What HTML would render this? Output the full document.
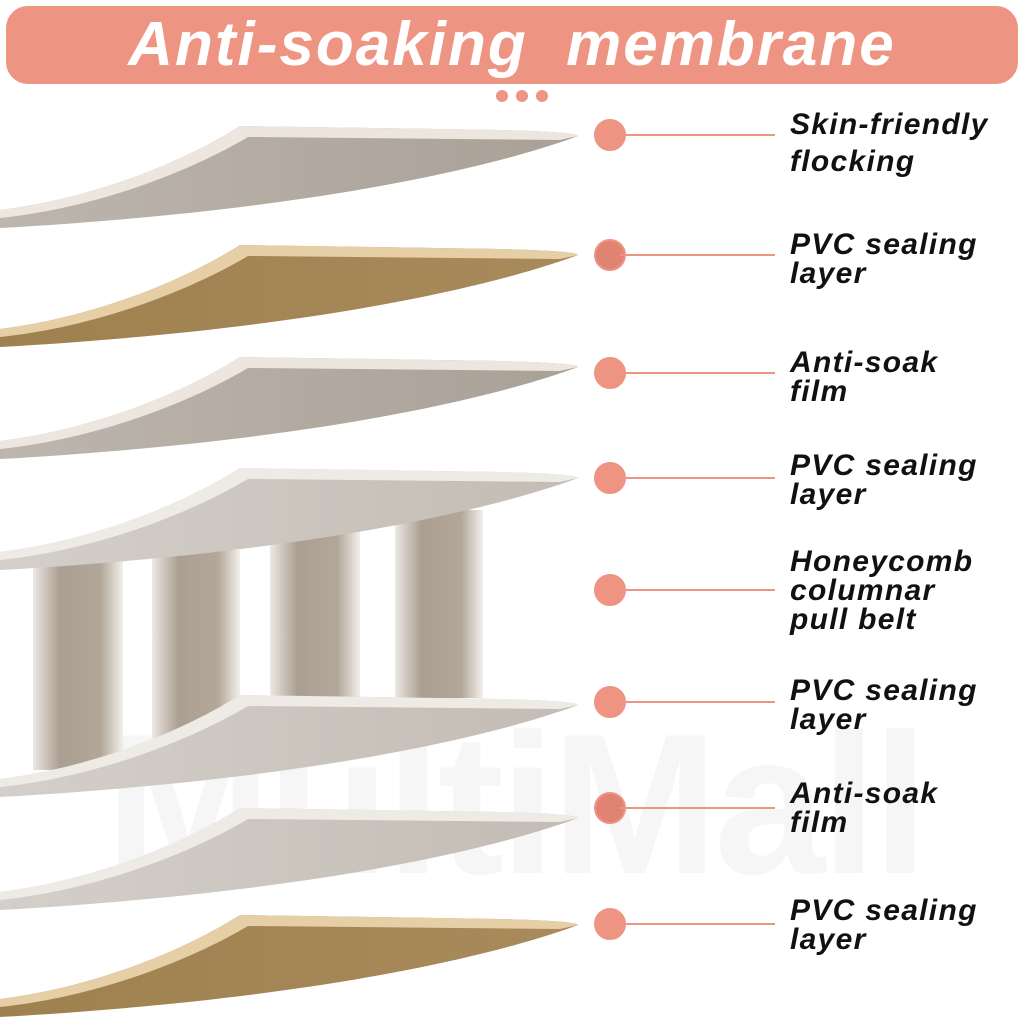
<!DOCTYPE html>
<html><head><meta charset="utf-8"><style>
html,body{margin:0;padding:0;background:#fff;}
body{width:1024px;height:1024px;position:relative;overflow:hidden;font-family:"Liberation Sans",sans-serif;}
.hdr{position:absolute;left:6px;top:6px;width:1012px;height:78px;background:#ee9482;border-radius:22px;color:#fff;font-style:italic;font-weight:bold;font-size:62px;text-align:center;line-height:78px;letter-spacing:2px;white-space:pre;}
.lbl{position:absolute;left:790px;font-weight:bold;font-style:italic;font-size:30px;line-height:29px;color:#111;letter-spacing:1.3px;}
.wm{position:absolute;left:105px;top:690px;font-size:200px;font-weight:bold;color:#f6f6f6;letter-spacing:-4px;}
</style></head><body>
<div class="wm">MultiMall</div>
<div class="hdr">Anti-soaking  membrane</div>
<svg width="1024" height="1024" style="position:absolute;left:0;top:0">
<defs>
<linearGradient id="g" x1="0" y1="0" x2="1" y2="0"><stop offset="0" stop-color="#bdb6ae"/><stop offset="1" stop-color="#a9a096"/></linearGradient>
<linearGradient id="g2" x1="0" y1="0" x2="1" y2="0"><stop offset="0" stop-color="#d4cfca"/><stop offset="1" stop-color="#c3bcb4"/></linearGradient>
<linearGradient id="t" x1="0" y1="0" x2="1" y2="0"><stop offset="0" stop-color="#9f814f"/><stop offset="1" stop-color="#a98a5c"/></linearGradient>
<linearGradient id="c" x1="0" y1="0" x2="1" y2="0"><stop offset="0" stop-color="#ece8e4"/><stop offset="0.3" stop-color="#ab9f91"/><stop offset="0.75" stop-color="#b2a799"/><stop offset="1" stop-color="#f2efeb"/></linearGradient>
<path id="surf" d="M0,210 C80,200 170,170 240,126 L500,130 Q578,132 578,136 C500,165 320,210 0,228 Z"/>
<path id="rim" d="M0,210 C80,200 170,170 240,126 L500,130 Q578,132 578,136 L560,140 L248,137 C175,180 80,210 0,218 Z"/>
</defs>
<circle cx="502" cy="96" r="6" fill="#ee9482"/><circle cx="522" cy="96" r="6" fill="#ee9482"/><circle cx="542" cy="96" r="6" fill="#ee9482"/>
<rect x="33" y="560" width="90" height="210" fill="url(#c)"/>
<rect x="152" y="550" width="88" height="220" fill="url(#c)"/>
<rect x="270" y="530" width="90" height="170" fill="url(#c)"/>
<rect x="395" y="510" width="88" height="188" fill="url(#c)"/>
<g><use href="#surf" fill="url(#g)"/><use href="#rim" fill="#ece6df"/></g>
<g transform="translate(0,119)"><use href="#surf" fill="url(#t)"/><use href="#rim" fill="#e6cfa6"/></g>
<g transform="translate(0,231)"><use href="#surf" fill="url(#g)"/><use href="#rim" fill="#ece6df"/></g>
<g transform="translate(0,342)"><use href="#surf" fill="url(#g2)"/><use href="#rim" fill="#eeeae5"/></g>
<g transform="translate(0,569)"><use href="#surf" fill="url(#g2)"/><use href="#rim" fill="#eeeae5"/></g>
<g transform="translate(0,682)"><use href="#surf" fill="url(#g2)"/><use href="#rim" fill="#eeeae5"/></g>
<g transform="translate(0,789)"><use href="#surf" fill="url(#t)"/><use href="#rim" fill="#e6cfa6"/></g>
<g fill="#ee9482" stroke="#ee9482" stroke-width="2">
<circle cx="610" cy="135" r="15"/><line x1="620" y1="135" x2="775" y2="135"/>
<circle cx="610" cy="255" r="15" fill="#e08373"/><line x1="620" y1="255" x2="775" y2="255"/>
<circle cx="610" cy="373" r="15"/><line x1="620" y1="373" x2="775" y2="373"/>
<circle cx="610" cy="478" r="15"/><line x1="620" y1="478" x2="775" y2="478"/>
<circle cx="610" cy="590" r="15"/><line x1="620" y1="590" x2="775" y2="590"/>
<circle cx="610" cy="702" r="15"/><line x1="620" y1="702" x2="775" y2="702"/>
<circle cx="610" cy="808" r="15" fill="#e08373"/><line x1="620" y1="808" x2="775" y2="808"/>
<circle cx="610" cy="924" r="15"/><line x1="620" y1="924" x2="775" y2="924"/>
</g>
</svg>
<div class="lbl" style="top:106px;line-height:37px">Skin-friendly<br>flocking</div>
<div class="lbl" style="top:230px">PVC sealing<br>layer</div>
<div class="lbl" style="top:348px">Anti-soak<br>film</div>
<div class="lbl" style="top:451px">PVC sealing<br>layer</div>
<div class="lbl" style="top:547px">Honeycomb<br>columnar<br>pull belt</div>
<div class="lbl" style="top:676px">PVC sealing<br>layer</div>
<div class="lbl" style="top:779px">Anti-soak<br>film</div>
<div class="lbl" style="top:896px">PVC sealing<br>layer</div>
</body></html>
